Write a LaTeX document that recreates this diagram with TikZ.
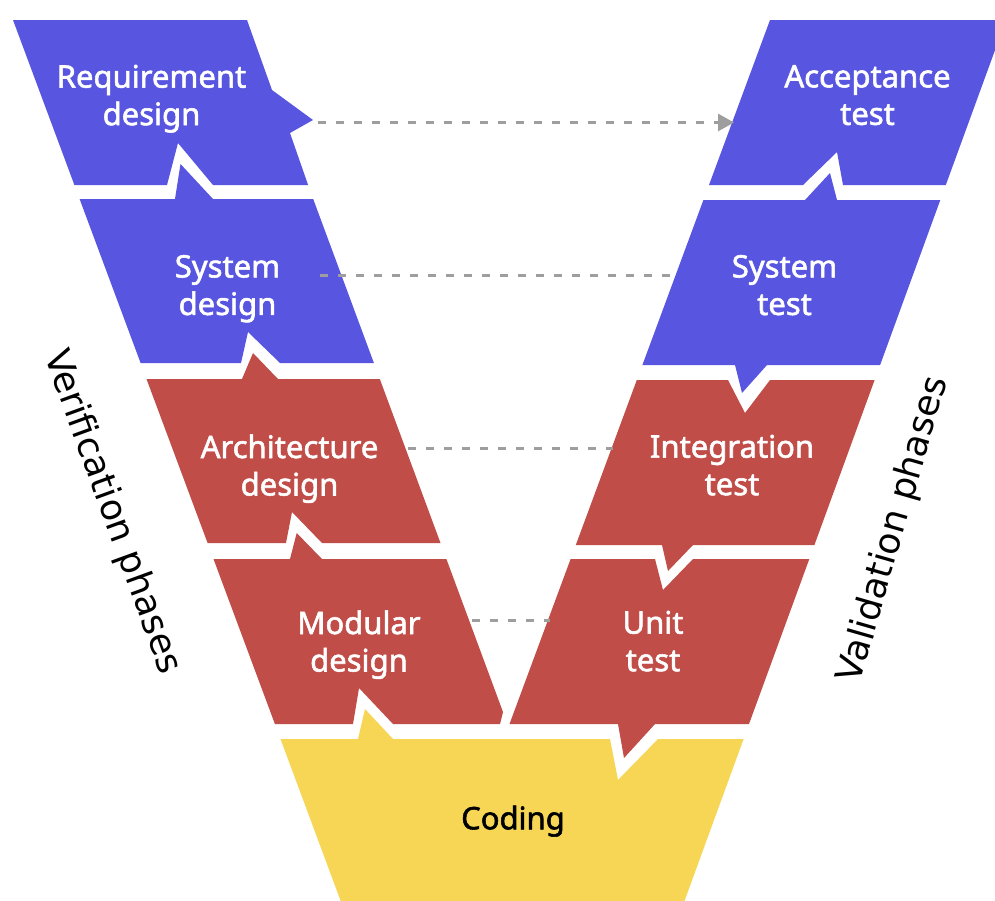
\documentclass[tikz,border=0pt]{standalone}
\usepackage{fontspec}
\setmainfont{Noto Sans}
\newfontfamily\labfont{Noto Sans}[FakeBold=1.8]
\newfontfamily\sidefont{DejaVu Sans}
\usetikzlibrary{arrows.meta}

\definecolor{vblue}{RGB}{88,86,224}
\definecolor{vred}{RGB}{193,77,73}
\definecolor{vyellow}{RGB}{246,214,84}
\definecolor{linkgray}{RGB}{158,158,158}

\begin{document}
\begin{tikzpicture}[x=1pt,y=-1pt,
  upper/.style={fill=vblue},
  lower/.style={fill=vred},
  core/.style={fill=vyellow},
  phaselabel/.style={text=white, align=center, inner sep=0pt,
    font=\labfont\fontsize{31}{37.5}\selectfont,
    execute at begin node={\vphantom{Ad}},
    execute at end node={\vphantom{g}}},
  sidelabel/.style={inner sep=0pt, font=\sidefont\fontsize{36}{40}\selectfont},
  link/.style={draw=linkgray, line width=3pt, dash pattern=on 8pt off 10pt},
]
\useasboundingbox (0,0) rectangle (995,900);
\fill[white] (0,0) rectangle (995,900);

% ---- verification side (left arm of the V) ----
\path[upper] (13,20) -- (247,20) -- (272,90) -- (313,120) -- (290,133)
  -- (308.1,185) -- (213,185) -- (178,143) -- (167,185) -- (74.4,185) -- cycle;
\path[upper] (79.6,199) -- (175,199) -- (180.5,164) -- (213,199) -- (313.2,199)
  -- (373.9,363) -- (280,363) -- (248,332) -- (241,363) -- (140.6,363) -- cycle;
\path[lower] (146.5,379) -- (242,379) -- (253,353) -- (278,379) -- (379.8,379)
  -- (440.5,543) -- (322,543) -- (292,512) -- (286,543) -- (207.6,543) -- cycle;
\path[lower] (213.5,559) -- (290,559) -- (296.7,533) -- (322,559) -- (446.4,559)
  -- (503,712) -- (500,724) -- (393,724) -- (359,688) -- (353,724) -- (274.9,724) -- cycle;

% ---- validation side (right arm of the V) ----
\path[upper] (770,20) -- (1006,20) -- (945.8,185) -- (843,185) -- (837,152)
  -- (803,185) -- (709,185) -- cycle;
\path[upper] (703.4,200) -- (805,200) -- (830,173) -- (837,200) -- (940.3,200)
  -- (880.1,365) -- (767,365) -- (742,393) -- (735,365) -- (642.4,365) -- cycle;
\path[lower] (636.8,380) -- (728,380) -- (745,413) -- (770,380) -- (874.6,380)
  -- (814.4,545) -- (693,545) -- (668,571) -- (662,545) -- (575.8,545) -- cycle;
\path[lower] (570.6,559) -- (655,559) -- (663,590) -- (693,559) -- (809.3,559)
  -- (749,724) -- (655,724) -- (624,758) -- (618,724) -- (509.5,724) -- cycle;

% ---- coding at the base ----
\path[core] (280.5,739) -- (358,739) -- (365,709) -- (393,739) -- (610,739)
  -- (618,780) -- (658,739) -- (743.6,739) -- (683,905) -- (342.2,905) -- cycle;

% ---- edge points used by the dashed links ----
\coordinate (req-e)  at (318,122.5);
\coordinate (acc-w)  at (734,122.5);
\coordinate (sysd-e) at (320,275.5);
\coordinate (syst-w) at (673,275.5);
\coordinate (arch-e) at (408,448);
\coordinate (int-w)  at (613,448);
\coordinate (mod-e)  at (472,620);
\coordinate (unit-w) at (550,620);

\draw[link, -{Triangle[length=16pt,width=17pt]}] (req-e) -- (acc-w);
\draw[link] (sysd-e) -- (syst-w);
\draw[link] (arch-e) -- (int-w);
\draw[link] (mod-e) -- (unit-w);

% ---- labels ----
\node[phaselabel] (req)  at (151.5,98.7)  {Requirement\\design};
\node[phaselabel] (sysd) at (227.5,288.7) {System\\design};
\node[phaselabel] (arch) at (289.5,468.7) {Architecture\\design};
\node[phaselabel] (mod)  at (359,644.7)   {Modular\\design};
\node[phaselabel] (acc)  at (867.5,98.7)  {Acceptance\\test};
\node[phaselabel] (syst) at (784.5,288.7) {System\\test};
\node[phaselabel] (int)  at (732,468.7)   {Integration\\test};
\node[phaselabel] (unit) at (653,644.7)   {Unit\\test};
\node[phaselabel, text=black] (code) at (513,821.2) {Coding};

\node[sidelabel, rotate=-70] (verif) at (112,512) {Verification phases};
\node[sidelabel, rotate=74]  (valid) at (894,530) {Validation phases};
\end{tikzpicture}
\end{document}
